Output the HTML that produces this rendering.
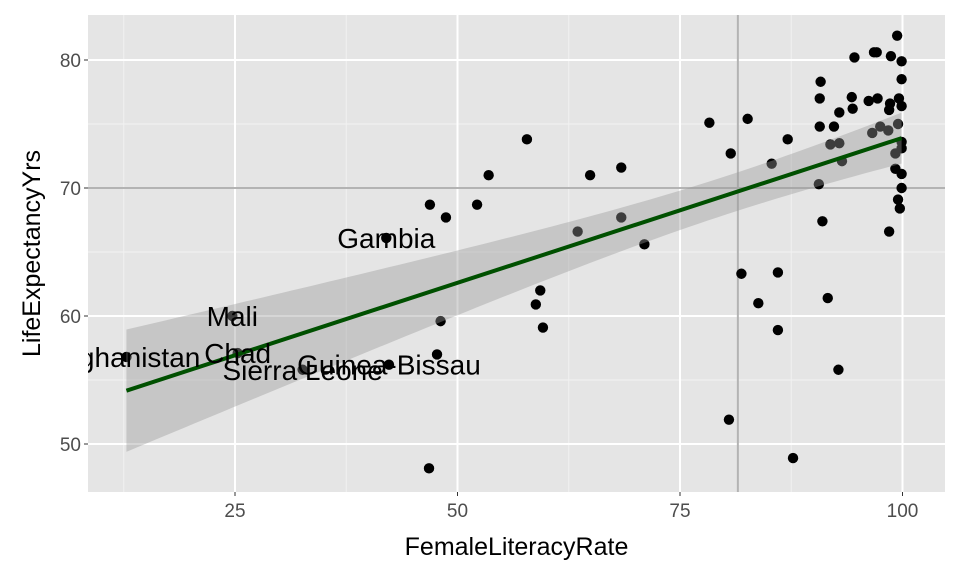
<!DOCTYPE html>
<html><head><meta charset="utf-8"><style>
body{margin:0;background:#fff;font-family:"Liberation Sans",sans-serif}
</style></head><body>
<svg id="chart" width="960" height="576" xmlns="http://www.w3.org/2000/svg"></svg>
<script>
const litX=[12.8,24.7,25.3,32.6,42.0,42.3,46.8,46.9,48.7,48.1,47.7,52.2,53.5,57.8,59.3,58.8,59.6,63.5,64.9,68.4,68.4,71.0,78.3,80.7,80.5,81.9,82.6,83.8,85.3,86.0,86.0,87.1,87.7,99.4,96.8,97.1,98.7,94.6,99.9,99.9,90.8,90.7,94.3,94.4,96.2,97.2,98.6,98.5,99.6,99.9,92.9,90.7,92.3,96.6,97.5,98.4,99.5,91.9,92.9,93.2,99.9,99.9,99.2,99.2,99.9,99.9,99.5,99.7,90.6,91.0,98.5,91.6,92.8];
const lifeY=[56.8,60.0,57.1,55.8,66.1,56.2,48.1,68.7,67.7,59.6,57.0,68.7,71.0,73.8,62.0,60.9,59.1,66.6,71.0,71.6,67.7,65.6,75.1,72.7,51.9,63.3,75.4,61.0,71.9,63.4,58.9,73.8,48.9,81.9,80.6,80.6,80.3,80.2,79.9,78.5,78.3,77.0,77.1,76.2,76.8,77.0,76.6,76.1,77.0,76.4,75.9,74.8,74.8,74.3,74.8,74.5,75.0,73.4,73.5,72.1,73.6,73.1,72.7,71.5,71.1,70.0,69.1,68.4,70.3,67.4,66.6,61.4,55.8];
const labelNames=["Afghanistan","Mali","Chad","Sierra Leone","Gambia","Guinea-Bissau"];
const labelIdx=[0,1,2,3,4,5];
const xTicks=[25,50,75,100];
const yTicks=[50,60,70,80];
const refX=81.5, refY=70;
const L=88,R=945,T=15,B=492;
const xs=v=>235+(v-25)*8.9;
const ys=v=>60+(80-v)*12.8;
const NS="http://www.w3.org/2000/svg";
const svg=document.getElementById('chart');
function mk(tag,attrs,parent){const e=document.createElementNS(NS,tag);for(const k in attrs)e.setAttribute(k,attrs[k]);(parent||svg).appendChild(e);return e;}
let bg=mk('rect',{x:L,y:T,width:R-L,height:B-T,fill:'#e5e5e5'});


for(let i=0;i<xTicks.length+1;i++){const v=xTicks[0]-12.5+25*i;const x=xs(v);if(x>L&&x<R){let g=mk('line',{x1:x,x2:x,y1:T,y2:B,stroke:'#f2f2f2','stroke-width':1});}}
for(let i=0;i<yTicks.length+1;i++){const v=yTicks[0]-5+10*i;const y=ys(v);if(y>T&&y<B){let g=mk('line',{x1:L,x2:R,y1:y,y2:y,stroke:'#f2f2f2','stroke-width':1});}}
xTicks.forEach(v=>{const x=xs(v);let g=mk('line',{x1:x,x2:x,y1:T,y2:B,stroke:'#fff','stroke-width':2});
mk('line',{x1:x,x2:x,y1:B,y2:B+4,stroke:'#333','stroke-width':1});
let t=mk('text',{x:x,y:B+25,'text-anchor':'middle','font-size':19,fill:'#4d4d4d'});t.textContent=v;});
yTicks.forEach(v=>{const y=ys(v);let g=mk('line',{x1:L,x2:R,y1:y,y2:y,stroke:'#fff','stroke-width':2});});
let vr=mk('line',{x1:xs(refX),x2:xs(refX),y1:T,y2:B,stroke:'#b3b3b3','stroke-width':2});

let hr=mk('line',{x1:L,x2:R,y1:ys(refY),y2:ys(refY),stroke:'#b3b3b3','stroke-width':2});

const n=litX.length;const mx=litX.reduce((a,b)=>a+b)/n,my=lifeY.reduce((a,b)=>a+b)/n;
let sxx=0,sxy=0;for(let i=0;i<n;i++){sxx+=(litX[i]-mx)**2;sxy+=(litX[i]-mx)*(lifeY[i]-my);}
const b1=sxy/sxx,b0=my-b1*mx;let sse=0;for(let i=0;i<n;i++)sse+=(lifeY[i]-b0-b1*litX[i])**2;
const s=Math.sqrt(sse/(n-2)),tq=1.99;
const xmin=Math.min(...litX),xmax=Math.max(...litX);
let up=[],lo=[];for(let k=0;k<=80;k++){const x=xmin+(xmax-xmin)*k/80;const f=b0+b1*x;const se=s*Math.sqrt(1/n+(x-mx)**2/sxx);up.push([xs(x),ys(f+tq*se)]);lo.push([xs(x),ys(f-tq*se)]);}
litX.forEach((v,i)=>{let c=mk('circle',{cx:xs(v),cy:ys(lifeY[i]),r:5.2,fill:'#000'});});
let band=mk('path',{d:'M'+up.map(p=>p.join(',')).join('L')+'L'+lo.reverse().map(p=>p.join(',')).join('L')+'Z',fill:'#999','fill-opacity':0.4});

let fl=mk('line',{x1:xs(xmin),y1:ys(b0+b1*xmin),x2:xs(xmax),y2:ys(b0+b1*xmax),stroke:'#005000','stroke-width':4});

labelIdx.forEach((idx,j)=>{let t=mk('text',{x:xs(litX[idx]),y:ys(lifeY[idx])+10,'text-anchor':'middle','font-size':28,fill:'#000'});t.textContent=labelNames[j];});
let cover=mk('rect',{x:0,y:0,width:L,height:576,fill:'#fff'});

yTicks.forEach(v=>{const y=ys(v);mk('line',{x1:L-4,x2:L,y1:y,y2:y,stroke:'#333','stroke-width':1});let t=mk('text',{x:L-7,y:y+7,'text-anchor':'end','font-size':19,fill:'#4d4d4d'});t.textContent=v;});
let xt=mk('text',{x:(L+R)/2,y:555,'text-anchor':'middle','font-size':25,fill:'#000'});xt.textContent='FemaleLiteracyRate';

let yt=mk('text',{x:0,y:0,'text-anchor':'middle','font-size':25,fill:'#000',transform:`translate(40,${(T+B)/2}) rotate(-90)`});yt.textContent='LifeExpectancyYrs';

</script>
</body></html>
